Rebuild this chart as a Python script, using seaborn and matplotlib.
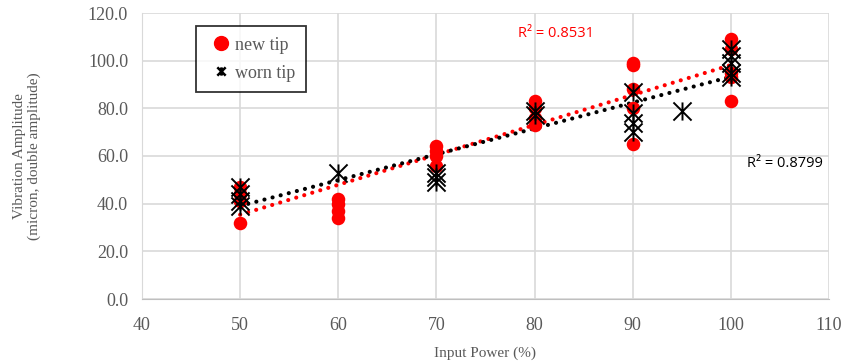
import numpy as np
import pandas as pd
import seaborn as sns
import matplotlib.pyplot as plt
from matplotlib.path import Path

# ---- data ----
new_x = [50, 50, 50, 50, 60, 60, 60, 60, 70, 70, 70, 70, 80, 80, 80, 80,
         90, 90, 90, 90, 90, 100, 100, 100, 100, 100]
new_y = [32, 41, 44, 47, 34, 37, 40, 42, 64, 62, 60, 56, 83, 80, 76, 73,
         99, 98, 88, 80, 65, 109, 105, 95, 93, 83]

worn_x = [50, 50, 50, 50, 60, 70, 70, 70, 80, 80, 90, 90, 90, 90, 95,
          100, 100, 100, 100, 100]
worn_y = [47, 44, 41, 39, 53, 53, 51, 49, 79, 77, 87, 78, 74, 70, 79,
          105, 102, 99, 95, 93]

r2_new = "R² = 0.8531"
r2_worn = "R² = 0.8799"

df_new = pd.DataFrame({"power": new_x, "amp": new_y})
df_worn = pd.DataFrame({"power": worn_x, "amp": worn_y})

sns.set_style("white")
plt.rcParams["font.family"] = ["Liberation Serif", "DejaVu Serif"]

fig = plt.figure(figsize=(8.44, 3.62), dpi=100)
ax = fig.add_axes([142 / 844, 1 - 299 / 362, 687 / 844, 286 / 362])

# X with a vertical stroke, like the Excel marker
star = Path([(-1, -1), (1, 1), (-1, 1), (1, -1), (0, -1), (0, 1)],
            [Path.MOVETO, Path.LINETO] * 3)

sns.scatterplot(data=df_new, x="power", y="amp", color="#ff0000", marker="o",
                s=95, linewidth=0, ax=ax, zorder=3)
sns.scatterplot(data=df_worn, x="power", y="amp", color="black", marker=star,
                s=170, linewidth=1.4, edgecolor="black", ax=ax, zorder=4)

# linear trendlines
xs = np.array([50, 100])
for x, y, c in [(new_x, new_y, "#ff0000"), (worn_x, worn_y, "black")]:
    m, b = np.polyfit(x, y, 1)
    ax.plot(xs, m * xs + b, linestyle=(0, (0.01, 2.0)), color=c, lw=3.0,
            dash_capstyle="round", zorder=2)

ax.text(0.548, 0.93, r2_new, transform=ax.transAxes, color="#ff0000",
        fontsize=10.5, family=["Open Sans", "DejaVu Sans"], ha="left", va="center")
ax.text(0.88, 0.475, r2_worn, transform=ax.transAxes, color="black",
        fontsize=10.5, family=["Open Sans", "DejaVu Sans"], ha="left", va="center")

ax.set_xlim(40, 110)
ax.set_ylim(0, 120)
ax.set_xticks(range(40, 111, 10))
ax.set_yticks(range(0, 121, 20))
ax.set_yticklabels([f"{v:.1f}" for v in range(0, 121, 20)])
ax.grid(True, color="#d9d9d9", lw=1.2)
ax.set_axisbelow(True)
for s in ["top", "right"]:
    ax.spines[s].set_visible(False)
ax.spines["left"].set_color("#d9d9d9")
ax.spines["bottom"].set_color("#bfbfbf")
ax.tick_params(axis="both", colors="#595959", labelsize=13, length=0)
ax.tick_params(axis="y", pad=10)
ax.tick_params(axis="x", pad=13)

ax.set_xlabel("Input Power (%)", fontsize=11, color="#595959", labelpad=9)
ax.set_ylabel("Vibration Amplitude\n(micron, double amplitude)", fontsize=11,
              color="#595959", labelpad=34, linespacing=1.15)

# legend box
h1 = plt.Line2D([], [], marker="o", color="#ff0000", ls="", markersize=10)
h2 = plt.Line2D([], [], marker=star, color="black", ls="", markersize=6,
                markeredgewidth=1.8)
leg = ax.legend([h1, h2], ["new tip", "worn tip"], loc="upper left",
                bbox_to_anchor=(0.078, 0.955), frameon=True, fancybox=False,
                fontsize=13, handletextpad=0.0, borderpad=0.6,
                labelspacing=0.6, handlelength=1.6, borderaxespad=0)
leg.get_frame().set_edgecolor("black")
leg.get_frame().set_linewidth(1.3)
for t in leg.get_texts():
    t.set_color("#595959")

fig.savefig("out.png", dpi=100)
